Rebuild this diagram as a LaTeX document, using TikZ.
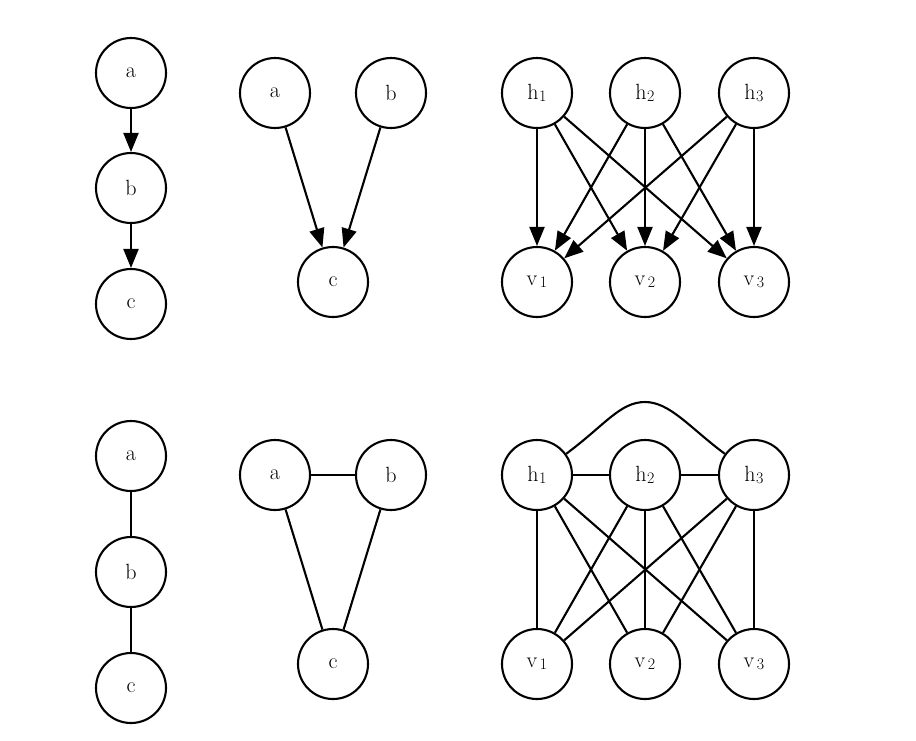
\documentclass[tikz,border=0pt]{standalone}
\usepackage{fontspec}
\usetikzlibrary{arrows.meta}
\begin{document}
\begin{tikzpicture}[x=1pt,y=-1pt,
  vnode/.style={circle,draw=black,line width=2.1pt,minimum size=70pt,inner sep=0pt,font=\fontsize{22}{26}\selectfont},
  dedge/.style={line width=2.1pt,-{Triangle[length=19pt,width=15pt]}},
  uedge/.style={line width=2.1pt}]
\useasboundingbox (0,0) rectangle (916,740);
\newcommand{\hlab}[1]{h\kern0.02em\raisebox{-0.25ex}{\fontsize{16}{18}\selectfont #1}}
\newcommand{\vlab}[1]{v\kern0.12em\raisebox{-0.25ex}{\fontsize{16}{18}\selectfont #1}}
% top-left chain
\node[vnode] (ta) at (131,73) {a};
\node[vnode] (tb) at (131,188) {b};
\node[vnode] (tc) at (131,304) {c};
\draw[dedge] (ta) -- (tb);
\draw[dedge] (tb) -- (tc);
% top-middle v-structure
\node[vnode] (ma) at (275,93) {a};
\node[vnode] (mb) at (391,93) {b};
\node[vnode] (mc) at (333,282) {c};
\draw[dedge] (ma) -- (mc);
\draw[dedge] (mb) -- (mc);
% top-right bipartite
\node[vnode] (h1) at (537,93) {\hlab{1}};
\node[vnode] (h2) at (645,93) {\hlab{2}};
\node[vnode] (h3) at (754,93) {\hlab{3}};
\node[vnode] (v1) at (537,282) {\vlab{1}};
\node[vnode] (v2) at (645,282) {\vlab{2}};
\node[vnode] (v3) at (754,282) {\vlab{3}};
\foreach \i in {1,2,3}{\foreach \j in {1,2,3}{\draw[dedge] (h\i) -- (v\j);}}
% bottom-left chain
\node[vnode] (ba) at (131,456) {a};
\node[vnode] (bb) at (131,572) {b};
\node[vnode] (bc) at (131,688) {c};
\draw[uedge] (ba) -- (bb);
\draw[uedge] (bb) -- (bc);
% bottom-middle triangle
\node[vnode] (na) at (275,475) {a};
\node[vnode] (nb) at (391,475) {b};
\node[vnode] (nc) at (333,664) {c};
\draw[uedge] (na) -- (nb);
\draw[uedge] (na) -- (nc);
\draw[uedge] (nb) -- (nc);
% bottom-right
\node[vnode] (g1) at (537,475) {\hlab{1}};
\node[vnode] (g2) at (645,475) {\hlab{2}};
\node[vnode] (g3) at (754,475) {\hlab{3}};
\node[vnode] (w1) at (537,664) {\vlab{1}};
\node[vnode] (w2) at (645,664) {\vlab{2}};
\node[vnode] (w3) at (754,664) {\vlab{3}};
\foreach \i in {1,2,3}{\foreach \j in {1,2,3}{\draw[uedge] (g\i) -- (w\j);}}
\draw[uedge] (g1) -- (g2);
\draw[uedge] (g2) -- (g3);
\draw[uedge] (g1.36) .. controls (605,425) and (620,402) .. (645,402) .. controls (670,402) and (690,428) .. (g3.144);
\end{tikzpicture}
\end{document}
